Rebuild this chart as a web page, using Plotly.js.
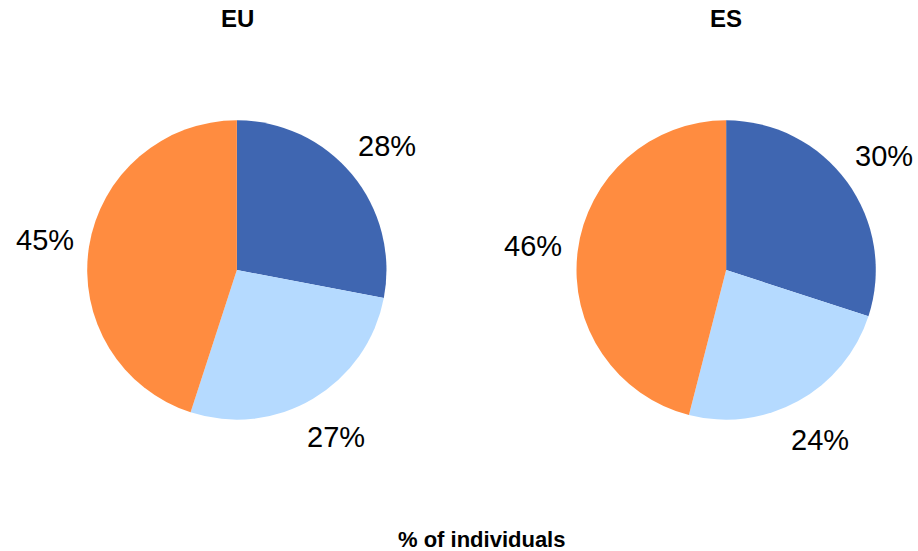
<!DOCTYPE html>
<html>
<head>
<meta charset="utf-8">
<script src="https://cdn.plot.ly/plotly-3.0.1.min.js"></script>
<style>html,body{margin:0;padding:0;background:#fff;}#chart{width:918px;height:551px;}</style>
</head>
<body>
<div id="chart"></div>
<script>
var categories = ["Category A", "Category B", "Category C"];
var euValues = [28, 27, 45];
var esValues = [30, 24, 46];
var colors = ["#3F66B1", "#B5DAFF", "#FF8C40"];
var pieTitles = ["EU", "ES"];
var bottomTitle = "% of individuals";

var W = 918, H = 551;
var domains = [
  {x: [0.095, 0.421], y: [0.238, 0.782]},
  {x: [0.628, 0.954], y: [0.238, 0.782]}
];
var labelFont = {family: "Liberation Sans, Arial, sans-serif", size: 29, color: "#000"};

function pieTrace(values, dom) {
  return {
    type: "pie",
    labels: categories,
    values: values,
    sort: false,
    direction: "clockwise",
    rotation: 0,
    marker: {colors: colors, line: {width: 0}},
    textinfo: "none",
    hoverinfo: "label+percent",
    showlegend: false,
    automargin: false,
    domain: dom
  };
}

// percentage labels placed outside, along each slice's bisector
function labelAnnotations(values, dom) {
  var total = values.reduce(function (a, b) { return a + b; }, 0);
  var cx = (dom.x[0] + dom.x[1]) / 2 * W;
  var cy = (1 - (dom.y[0] + dom.y[1]) / 2) * H;
  var r = Math.min((dom.x[1] - dom.x[0]) * W, (dom.y[1] - dom.y[0]) * H) / 2;
  var d = r * 1.3;
  var cum = 0, out = [];
  values.forEach(function (v) {
    var mid = (cum + v / 2) / total;
    cum += v;
    var th = mid * 2 * Math.PI;
    var px = cx + d * Math.sin(th);
    var py = cy - d * Math.cos(th);
    out.push({
      text: Math.round(v / total * 100) + "%",
      x: px / W, y: 1 - py / H, xref: "paper", yref: "paper",
      showarrow: false, xanchor: "center", yanchor: "middle",
      font: labelFont
    });
  });
  return out;
}

var data = [
  pieTrace(euValues, domains[0]),
  pieTrace(esValues, domains[1])
];

var annotations = [
  {text: "<b>" + pieTitles[0] + "</b>", x: 237/918, y: 1 - 19/551, xref: "paper", yref: "paper", showarrow: false, xanchor: "center", yanchor: "middle", font: {size: 24}},
  {text: "<b>" + pieTitles[1] + "</b>", x: 726/918, y: 1 - 19/551, xref: "paper", yref: "paper", showarrow: false, xanchor: "center", yanchor: "middle", font: {size: 24}},
  {text: "<b>" + bottomTitle + "</b>", x: 481/918, y: 1 - 539/551, xref: "paper", yref: "paper", showarrow: false, xanchor: "center", yanchor: "middle", font: {size: 22}}
].concat(labelAnnotations(euValues, domains[0]), labelAnnotations(esValues, domains[1]));

var layout = {
  width: W,
  height: H,
  margin: {l: 0, r: 0, t: 0, b: 0},
  paper_bgcolor: "#fff",
  showlegend: false,
  font: {family: "Liberation Sans, Arial, sans-serif", color: "#000"},
  annotations: annotations
};

Plotly.newPlot("chart", data, layout, {displayModeBar: false, staticPlot: true});
</script>
</body>
</html>
